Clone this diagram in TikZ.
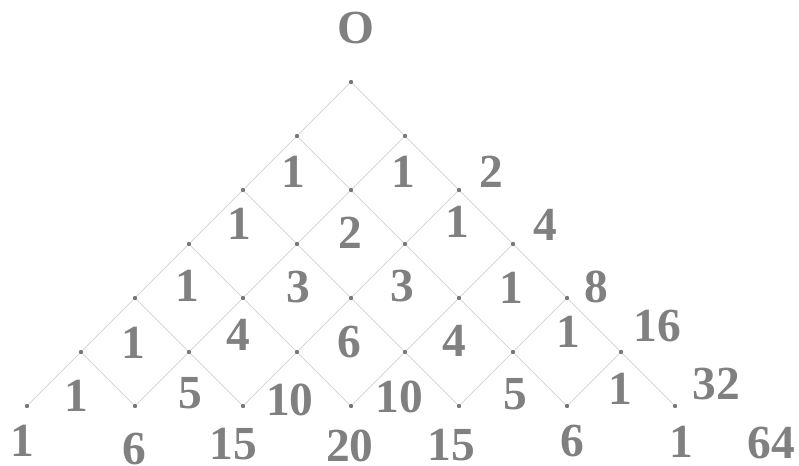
\documentclass[tikz,border=0pt]{standalone}
\usepackage{fontspec}
\setmainfont{Liberation Serif}
\usepackage{xcolor}
\usepackage{tikz}
\usetikzlibrary{calc, positioning}

\definecolor{numgray}{RGB}{128,128,128}
\definecolor{dotgray}{RGB}{120,120,120}
\definecolor{linegray}{RGB}{215,215,215}

\begin{document}
\begin{tikzpicture}[
    grid/.style={draw=linegray, line width=0.5pt},
    num/.style={text=numgray, inner sep=0pt, font=\fontsize{25}{25}\selectfont\bfseries}]
    \useasboundingbox (-6.5,-7.093) rectangle (8.296,1.5185);
    % 1. Các điểm của lưới
    \foreach \k in {0,...,6} {
        \foreach \j in {0,...,\k} {
            \coordinate (p\k-\j) at ({2*\j-\k},{-\k});
        }
    }
    
    % 2. Các đường nối
    \foreach \k in {0,...,5} {
        \foreach \j in {0,...,\k} {
            \pgfmathtruncatemacro\kk{\k+1}
            \pgfmathtruncatemacro\jj{\j+1}
            \draw[grid] (p\k-\j) -- (p\kk-\j);
            \draw[grid] (p\k-\j) -- (p\kk-\jj);
        }
    }
    \foreach \k in {0,...,6} {
        \foreach \j in {0,...,\k} {
            \fill[dotgray] (p\k-\j) circle (0.04);
        }
    }
    
    % 3. Các số
    \node[num] (top) at (0.09,1.0) {O};
    \foreach \v/\x/\y [count=\i] in {
        1/-1.07/-1.67, 1/0.97/-1.67,
        1/-2.07/-2.63, 2/-0.02/-2.79, 1/1.97/-2.59,
        1/-3.03/-3.78, 3/-0.98/-3.80, 3/0.96/-3.78, 1/2.97/-3.82,
        1/-4.03/-4.83, 4/-2.09/-4.69, 6/-0.03/-4.81, 4/1.92/-4.80, 1/4.02/-4.62,
        1/-5.08/-5.81, 5/-2.98/-5.77, 10/-1.13/-5.89, 10/0.90/-5.84, 5/3.04/-5.78, 1/4.98/-5.69,
        1/-6.08/-6.64, 6/-4.01/-6.80, 15/-2.18/-6.70, 20/-0.02/-6.74, 15/1.86/-6.72, 6/4.09/-6.64, 1/6.11/-6.66} {
        \node[num] (n\i) at (\x,\y) {\v};
    }
    
    % 4. Tổng mỗi hàng
    \foreach \v/\x/\y in {2/2.59/-1.66, 4/3.59/-2.65, 8/4.54/-3.79, 16/5.67/-4.52, 32/6.77/-5.59, 64/7.79/-6.68} {
        \node[num] (s\v) at (\x,\y) {\v};
    }
\end{tikzpicture}
\end{document}
